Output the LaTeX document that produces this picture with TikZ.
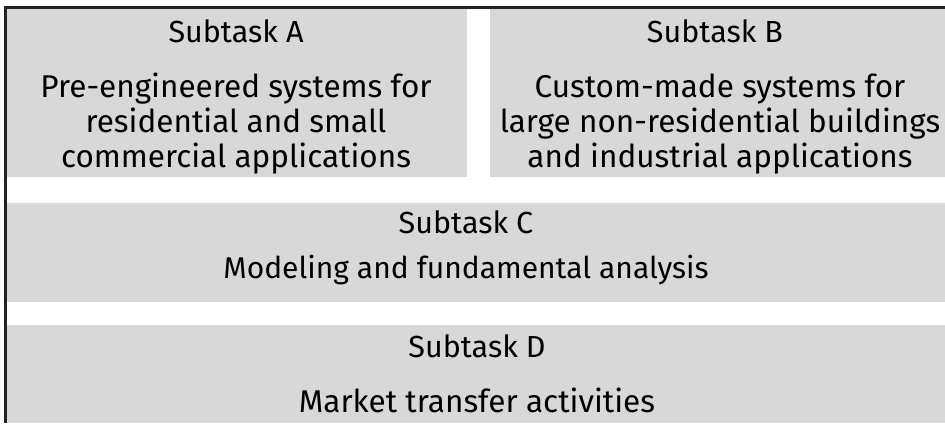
\documentclass[tikz,border=0pt]{standalone}
\usepackage{fontspec}
\setmainfont{Fira Sans}
\definecolor{boxgray}{RGB}{216,216,216}
\definecolor{framecol}{RGB}{35,35,35}
\tikzset{
  boxfill/.style={fill=boxgray},
  title/.style={font=\fontsize{30.5}{35}\selectfont, anchor=base, inner sep=0pt},
  body/.style={font=\fontsize{31.5}{35}\selectfont, align=center, anchor=base, inner sep=0pt},
}
\begin{document}
\begin{tikzpicture}[x=1pt,y=-1pt]
\useasboundingbox (0,0) rectangle (945,423);
\fill[white] (0,0) rectangle (945,423);
\fill[boxfill] (7,9) rectangle (467,177);
\fill[boxfill] (490,9) rectangle (945,177);
\fill[boxfill] (7,203) rectangle (945,302);
\fill[boxfill] (7,325) rectangle (945,423);
\draw[framecol, line width=2.5pt] (5.5,423) -- (5.5,7.5) -- (945,7.5);
\node[title] (ta) at (236,42) {Subtask A};
\node[body] (ba) at (236,167) {Pre-engineered systems for\\residential and small\\commercial applications};
\node[title] (tb) at (715,42) {Subtask B};
\node[body] (bb) at (720,167) {Custom-made systems for\\large non-residential buildings\\and industrial applications};
\node[title] (tc) at (466,233) {Subtask C};
\node[body, font=\fontsize{30}{35}\selectfont] (bc) at (466,278) {Modeling and fundamental analysis};
\node[title] (td) at (477,357) {Subtask D};
\node[body] (bd) at (477,412) {Market transfer activities};
\end{tikzpicture}
\end{document}
